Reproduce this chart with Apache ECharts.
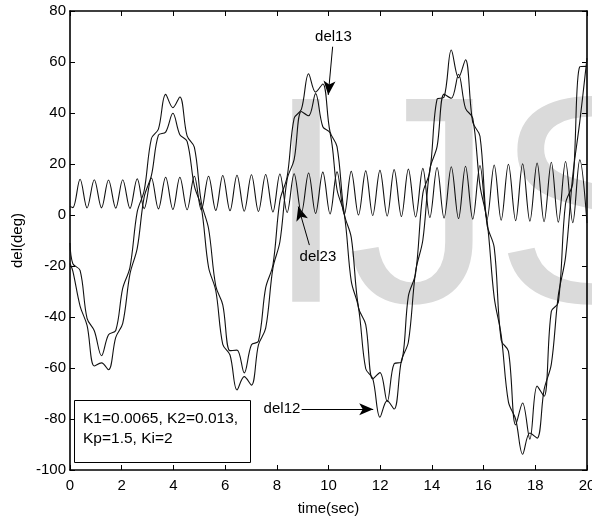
<!DOCTYPE html>
<html><head><meta charset="utf-8">
<script src="https://cdn.jsdelivr.net/npm/echarts@6/dist/echarts.min.js"></script>
<style>html,body{margin:0;padding:0;background:#fff}#c{width:592px;height:518px}</style>
</head><body><div id="c"></div>
<script>
// time samples (s)
const time = [0, 0.11, 0.39, 0.66, 0.94, 1.22, 1.49, 1.77, 2.04, 2.32, 2.60, 2.87, 3.15, 3.42, 3.70, 3.98, 4.25, 4.53, 4.81, 5.08, 5.36, 5.64, 5.91, 6.19, 6.46, 6.74, 7.02, 7.29, 7.57, 7.85, 8.12, 8.40, 8.67, 8.95, 9.23, 9.50, 9.78, 10.06, 10.33, 10.61, 10.88, 11.16, 11.44, 11.71, 11.99, 12.27, 12.54, 12.82, 13.09, 13.37, 13.65, 13.92, 14.20, 14.47, 14.75, 15.03, 15.30, 15.58, 15.86, 16.13, 16.41, 16.68, 16.96, 17.24, 17.51, 17.79, 18.07, 18.34, 18.62, 18.89, 19.17, 19.45, 19.72, 20.00];
const del12 = [-19, -22, -35.7, -43.3, -59.2, -58.0, -60.7, -48.0, -42.5, -23.1, -13.1, 7.1, 15.5, 31.3, 32.5, 39.9, 31.5, 28.9, 11.4, 3.0, -20.5, -29.7, -50.7, -54.9, -68.6, -63.4, -66.7, -50.9, -44.4, -20.8, -10.5, 14.0, 21.7, 40.6, 38.9, 47.6, 34.6, 32.2, 9.9, 0.3, -25.9, -36.3, -60.3, -64.1, -79.3, -72.8, -76.1, -57.1, -49.8, -22.1, -9.8, 18.0, 26.8, 47.4, 45.8, 55.2, 41.8, 38.0, 11.5, -1.9, -32.3, -47.1, -73.3, -80.1, -93.8, -85.5, -87.5, -68.5, -58.5, -31.5, -16.5, 15.5, 36.5, 61.5];
const del13 = [-11, -19.1, -21.7, -40.5, -45.4, -55.2, -47.0, -45.3, -28.7, -20.5, 1.2, 9.6, 30.0, 33.7, 47.3, 42.1, 46.3, 31.0, 26.6, 5.0, -5.3, -27.9, -35.2, -53.2, -53.0, -61.9, -50.9, -49.5, -28.5, -19.6, 5.6, 15.0, 37.9, 41.4, 55.4, 48.2, 51.4, 32.6, 26.8, 0.5, -8.8, -36.3, -43.0, -64.3, -61.8, -73.2, -58.3, -57.7, -31.8, -22.9, 8.5, 17.0, 45.4, 46.2, 64.7, 53.8, 60.9, 36.4, 30.9, -3.7, -12.7, -49.1, -53.4, -82.3, -73.7, -87.9, -67.1, -71.1, -37.8, -34.3, 4.5, 12.5, 58.1, 58.3];
const del23 = [3.3, 2.9, 14.0, 2.8, 13.8, 2.8, 13.7, 2.7, 13.8, 2.6, 14.2, 2.5, 14.5, 2.4, 14.8, 2.2, 14.8, 2.1, 15.2, 2.0, 15.2, 1.8, 15.5, 1.7, 15.6, 1.5, 15.8, 1.4, 15.9, 1.2, 16.1, 1.0, 16.2, 0.8, 16.5, 0.6, 16.8, 0.4, 16.9, 0.2, 17.1, 0.0, 17.3, -0.2, 17.5, -0.4, 17.8, -0.6, 18.0, -0.8, 18.3, -1.0, 18.6, -1.2, 18.9, -1.4, 19.1, -1.6, 19.4, -1.8, 19.6, -2.0, 19.9, -2.2, 20.1, -2.4, 20.4, -2.6, 20.7, -2.8, 21.0, -3.0, 21.6, -3.2];
const xTicks = [0, 2, 4, 6, 8, 10, 12, 14, 16, 18, 20];
const yTicks = [-100, -80, -60, -40, -20, 0, 20, 40, 60, 80];
const xName = 'time(sec)';
const yName = 'del(deg)';
const noteLines = ['K1=0.0065, K2=0.013,', 'Kp=1.5, Ki=2'];
// annotation labels: [text, textPos, arrowStart, arrowEnd] in data units
const notes = [
  ['del13', [10.19, 69.8], [10.16, 66.0], [9.99, 47.1]],
  ['del23', [9.59, -16.6], [9.26, -11.8], [8.83, 3.3]],
  ['del12', [8.2, -76.2], [8.96, -76.2], [11.73, -76.2]]
];

const FONT = 'Liberation Sans, Arial, sans-serif';
const chart = echarts.init(document.getElementById('c'), null, {renderer: 'canvas'});
const pair = arr => time.map((t, i) => [t, arr[i]]);
const xStep = xTicks[1] - xTicks[0], yStep = yTicks[1] - yTicks[0];
const axisCommon = {
  axisLine: {show: true, onZero: false, lineStyle: {color: '#000', width: 1.6}},
  axisTick: {show: true, inside: true, length: 5, lineStyle: {color: '#000', width: 1}},
  splitLine: {show: false}
};
const lineSeries = (name, arr) => ({
  name, type: 'line', data: pair(arr), xAxisIndex: 0, yAxisIndex: 0,
  showSymbol: false, smooth: 0.35, clip: true,
  lineStyle: {color: '#111', width: 1.1}, emphasis: {disabled: true}, silent: true, z: 5
});
const s23 = lineSeries('del23', del23);
s23.markLine = {
  silent: true, symbol: ['none', 'arrow'], symbolSize: [9, 14],
  label: {show: false}, lineStyle: {color: '#000', width: 1, type: 'solid'},
  emphasis: {disabled: true},
  data: notes.map(n => [{coord: n[2]}, {coord: n[3]}])
};
chart.setOption({
  animation: false,
  backgroundColor: '#fff',
  grid: {left: 70, right: 5, top: 11, bottom: 48, outerBoundsMode: 'none', containLabel: false},
  xAxis: [
    Object.assign({type: 'value', position: 'bottom', min: xTicks[0], max: xTicks[xTicks.length - 1], interval: xStep,
      name: xName, nameLocation: 'middle', nameGap: 31,
      nameTextStyle: {fontFamily: FONT, fontSize: 15, color: '#000'},
      axisLabel: {fontFamily: FONT, fontSize: 15, color: '#000', margin: 8, showMaxLabel: true, showMinLabel: true}}, axisCommon),
    Object.assign({type: 'value', position: 'top', min: xTicks[0], max: xTicks[xTicks.length - 1], interval: xStep,
      axisLabel: {show: false}}, axisCommon)
  ],
  yAxis: [
    Object.assign({type: 'value', position: 'left', min: yTicks[0], max: yTicks[yTicks.length - 1], interval: yStep,
      name: yName, nameLocation: 'middle', nameGap: 45, nameRotate: 90,
      nameTextStyle: {fontFamily: FONT, fontSize: 15, color: '#000'},
      axisLabel: {fontFamily: FONT, fontSize: 15, color: '#000', margin: 4}}, axisCommon),
    Object.assign({type: 'value', position: 'right', min: yTicks[0], max: yTicks[yTicks.length - 1], interval: yStep,
      axisLabel: {show: false}}, axisCommon)
  ],
  series: [lineSeries('del12', del12), lineSeries('del13', del13), s23]
});

const px = p => chart.convertToPixel({gridIndex: 0}, p);
const graphics = [
  {type: 'text', z: -10, silent: true, x: 265, y: 220.5,
   style: {text: 'IJS', fontFamily: FONT, fontSize: 295, fill: '#dadada', align: 'left', verticalAlign: 'middle'}},
  {type: 'rect', z: 10, silent: true, shape: {x: 74.5, y: 400.5, width: 176, height: 62},
   style: {fill: '#fff', stroke: '#000', lineWidth: 1}},
  {type: 'text', z: 11, silent: true, x: 83, y: 419,
   style: {text: noteLines[0], fontFamily: FONT, fontSize: 15.5, fill: '#000', verticalAlign: 'middle'}},
  {type: 'text', z: 11, silent: true, x: 83, y: 439,
   style: {text: noteLines[1], fontFamily: FONT, fontSize: 15.5, fill: '#000', verticalAlign: 'middle'}}
];
notes.forEach(n => {
  const p = px(n[1]);
  graphics.push({type: 'text', z: 11, silent: true, x: p[0], y: p[1],
    style: {text: n[0], fontFamily: FONT, fontSize: 15, fill: '#000', align: 'center', verticalAlign: 'middle'}});
});
chart.setOption({graphic: graphics});
</script></body></html>
